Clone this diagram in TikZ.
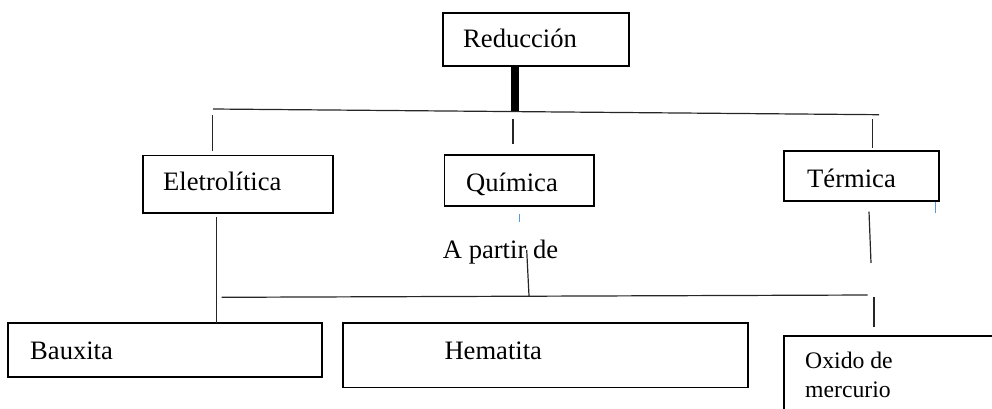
\documentclass[tikz,border=0pt]{standalone}
\usepackage{fontspec}
\setmainfont{Liberation Serif}
\definecolor{tickblue}{RGB}{91,155,213}
\begin{document}
\begin{tikzpicture}[x=1pt,y=-1pt,
  box/.style={draw=black,line width=1.6pt,rectangle,inner sep=0pt,outer sep=0pt,anchor=north west},
  lbl/.style={anchor=base west,inner sep=0pt,font=\fontsize{26.6}{30}\selectfont},
  slbl/.style={anchor=base west,inner sep=0pt,font=\fontsize{23.7}{29}\selectfont},
  ln/.style={draw=black!85,line width=1.2pt},
  bluetick/.style={draw=tickblue,line width=1pt}]
\useasboundingbox (0,0) rectangle (992,408);
\clip (0,0) rectangle (992,408);
% boxes
\node[box,minimum width=186pt,minimum height=53pt] (red) at (443,13) {};
\node[box,minimum width=190.3pt,minimum height=57.5pt] (ele) at (142.7,155.5) {};
\node[box,minimum width=149.4pt,minimum height=50.7pt] (qui) at (444.3,155) {};
\node[box,minimum width=155pt,minimum height=50.3pt] (ter) at (784,150.7) {};
\node[box,minimum width=313.7pt,minimum height=54.3pt] (bau) at (8,322.7) {};
\node[box,minimum width=405pt,minimum height=64.3pt] (hem) at (342.7,323) {};
\node[box,minimum width=230pt,minimum height=100pt] (oxi) at (784,336) {};
% texts
\node[lbl] (tred) at (463,47.3) {Reducción};
\node[lbl] (tele) at (163,190.7) {Eletrolítica};
\node[lbl] (tqui) at (466,191) {Química};
\node[lbl] (tter) at (807,187.3) {Térmica};
\node[lbl] (tapd) at (442.7,258.3) {A partir de};
\node[lbl] (tbau) at (30,359.3) {Bauxita};
\node[lbl] (them) at (444.3,359.3) {Hematita};
\node[slbl] (toxi1) at (805,368) {Oxido de};
\node[slbl] (toxi2) at (805,397) {mercurio};
% coordinates
\coordinate (barTop) at (515,66);
\coordinate (barBot) at (515,112);
\coordinate (topL) at (213,109);
\coordinate (topR) at (879,114.7);
\coordinate (t1a) at (212.7,115); \coordinate (t1b) at (212.7,151);
\coordinate (t2a) at (513,119.3); \coordinate (t2b) at (513,144.3);
\coordinate (t3a) at (872.3,119); \coordinate (t3b) at (872.3,148.3);
\coordinate (b1a) at (519,214); \coordinate (b1b) at (519,222.3);
\coordinate (b2a) at (935.7,201.5); \coordinate (b2b) at (935.7,212.7);
\coordinate (ed1) at (216.7,216.7); \coordinate (ed2) at (216.7,322.7);
\coordinate (td1) at (869,211.7); \coordinate (td2) at (871,263);
\coordinate (ap1) at (526.7,250); \coordinate (ap2) at (529,296);
\coordinate (lowL) at (221.7,297.3);
\coordinate (lowR) at (867.7,295);
\coordinate (ot1) at (874,296.7); \coordinate (ot2) at (874,326.7);
% connectors
\draw[line width=8pt] (barTop) -- (barBot);
\draw[ln] (topL) -- (topR);
\draw[ln] (t1a) -- (t1b);
\draw[ln] (t2a) -- (t2b);
\draw[ln] (t3a) -- (t3b);
\draw[bluetick] (b1a) -- (b1b);
\draw[bluetick] (b2a) -- (b2b);
\draw[ln] (ed1) -- (ed2);
\draw[ln] (td1) -- (td2);
\draw[ln] (ap1) -- (ap2);
\draw[ln] (lowL) -- (lowR);
\draw[ln] (ot1) -- (ot2);
\end{tikzpicture}
\end{document}
